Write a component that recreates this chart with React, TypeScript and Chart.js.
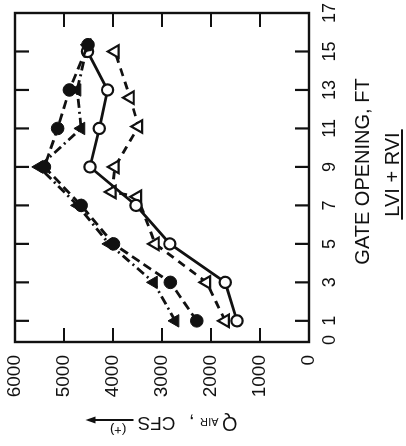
import React, { useEffect, useRef } from "react";
import { Chart, registerables } from "chart.js";

Chart.register(...registerables);

// ---- data (x = gate opening, ft ; y = Q_air, cfs) ----
const gateTickLabels = [0, 1, 3, 5, 7, 9, 11, 13, 15, 17];
const gateTickMarks = [1, 3, 5, 7, 9, 11, 13, 15];
const qTickLabels = [0, 1000, 2000, 3000, 4000, 5000, 6000];
const qTickMarks = [1000, 2000, 3000, 4000, 5000];

const gateFilledCircle = [1, 3, 5, 7, 9, 11, 13, 15.35];
const qFilledCircle = [2290, 2830, 3990, 4650, 5400, 5130, 4890, 4510];

const gateFilledTriangle = [1, 3, 5, 7, 9, 11, 13, 15.35];
const qFilledTriangle = [2730, 3170, 4080, 4720, 5510, 4650, 4730, 4520];

const gateOpenCircle = [1, 3, 5, 7, 9, 11, 13, 15];
const qOpenCircle = [1470, 1710, 2840, 3530, 4470, 4280, 4110, 4520];

const gateOpenTriangle = [1, 3, 5, 7.45, 7.7, 9, 11.1, 12.6, 15];
const qOpenTriangle = [1710, 2090, 3140, 3500, 4020, 3960, 3480, 3650, 3960];

const INK = "#111111";
const FONT = "'Liberation Sans', Arial, Helvetica, sans-serif";
const TICK = 14;

const pts = (gs: number[], qs: number[]) => gs.map((g, i) => ({ x: g, y: qs[i] }));

const framePlugin = {
  id: "frame",
  beforeDatasetsDraw(chart: any) {
    const { ctx, chartArea: a, scales } = chart;
    const x = scales.x;
    const y = scales.y;
    ctx.save();
    ctx.strokeStyle = INK;
    ctx.lineWidth = 2.4;
    ctx.setLineDash([]);
    ctx.strokeRect(a.left, a.top, a.right - a.left, a.bottom - a.top);
    ctx.lineWidth = 2.2;
    ctx.beginPath();
    for (const g of gateTickMarks) {
      const px = x.getPixelForValue(g);
      ctx.moveTo(px, a.bottom);
      ctx.lineTo(px, a.bottom - TICK);
      ctx.moveTo(px, a.top);
      ctx.lineTo(px, a.top + TICK);
    }
    for (const q of qTickMarks) {
      const py = y.getPixelForValue(q);
      ctx.moveTo(a.left, py);
      ctx.lineTo(a.left + TICK, py);
      ctx.moveTo(a.right, py);
      ctx.lineTo(a.right - TICK, py);
    }
    ctx.stroke();
    ctx.restore();
  },
  afterDraw(chart: any) {
    const { ctx, chartArea: a } = chart;
    const midX = (a.left + a.right) / 2;
    const midY = (a.top + a.bottom) / 2;
    ctx.save();
    ctx.fillStyle = INK;
    ctx.strokeStyle = INK;
    ctx.setLineDash([]);

    // gate axis title
    ctx.font = `20px ${FONT}`;
    ctx.textAlign = "center";
    ctx.textBaseline = "middle";
    ctx.fillText("GATE OPENING, FT", midX + 6, a.bottom + 54);

    // LVI + RVI underlined
    ctx.font = `20px ${FONT}`;
    const sub = "LVI + RVI";
    const w = ctx.measureText(sub).width;
    const cx = midX + 3;
    ctx.fillText(sub, cx, a.bottom + 84);
    ctx.lineWidth = 2;
    ctx.beginPath();
    ctx.moveTo(cx - w / 2 - 3, a.bottom + 93);
    ctx.lineTo(cx + w / 2 + 3, a.bottom + 93);
    ctx.stroke();

    // Q axis title (rotated, reading bottom to top)
    ctx.translate(a.left - 75, midY + 75.5);
    ctx.rotate(-Math.PI / 2);
    ctx.textAlign = "left";
    ctx.textBaseline = "alphabetic";
    ctx.font = `20px ${FONT}`;
    ctx.fillText("Q", 0, 0);
    ctx.font = `11px ${FONT}`;
    ctx.fillText("AIR", 19, -1);
    ctx.font = `20px ${FONT}`;
    ctx.fillText(",", 43, 0);
    ctx.font = `19px ${FONT}`;
    ctx.fillText("CFS", 62, 0);
    // arrow
    ctx.lineWidth = 2;
    ctx.beginPath();
    ctx.moveTo(104, -3);
    ctx.lineTo(144, -3);
    ctx.stroke();
    ctx.beginPath();
    ctx.moveTo(152, -3);
    ctx.lineTo(142, -6.5);
    ctx.lineTo(142, 0.5);
    ctx.closePath();
    ctx.fill();
    ctx.font = `13px ${FONT}`;
    ctx.textAlign = "center";
    ctx.fillText("(+)", 119.5, -9);
    ctx.restore();
  },
};

const zeroPad = (s: any) => {
  s.paddingLeft = 0;
  s.paddingRight = 0;
  s.paddingTop = 0;
  s.paddingBottom = 0;
};

export default function App() {
  const ref = useRef<HTMLCanvasElement>(null);

  useEffect(() => {
    if (!ref.current) return;
    const chart = new Chart(ref.current, {
      type: "line",
      data: {
        datasets: [
          {
            label: "filled circles",
            data: pts(gateFilledCircle, qFilledCircle),
            borderColor: INK,
            backgroundColor: INK,
            borderWidth: 2.8,
            borderDash: [9, 5],
            pointStyle: "circle",
            pointRadius: 6.3,
            pointBackgroundColor: INK,
            pointBorderColor: INK,
            pointBorderWidth: 1,
            tension: 0,
            fill: false,
          },
          {
            label: "filled triangles",
            data: pts(gateFilledTriangle, qFilledTriangle),
            borderColor: INK,
            backgroundColor: INK,
            borderWidth: 2.8,
            borderDash: [9, 4, 2, 4],
            pointStyle: "triangle",
            pointRadius: 7.2,
            pointBackgroundColor: INK,
            pointBorderColor: INK,
            pointBorderWidth: 1,
            tension: 0,
            fill: false,
          },
          {
            label: "open circles",
            data: pts(gateOpenCircle, qOpenCircle),
            borderColor: INK,
            backgroundColor: "#ffffff",
            borderWidth: 2.8,
            pointStyle: "circle",
            pointRadius: 5.6,
            pointBackgroundColor: "#ffffff",
            pointBorderColor: INK,
            pointBorderWidth: 2.2,
            tension: 0,
            fill: false,
          },
          {
            label: "open triangles",
            data: pts(gateOpenTriangle, qOpenTriangle),
            borderColor: INK,
            backgroundColor: "#ffffff",
            borderWidth: 2.8,
            borderDash: [8, 6],
            pointStyle: "triangle",
            pointRadius: 7.2,
            pointBackgroundColor: "#ffffff",
            pointBorderColor: INK,
            pointBorderWidth: 2.2,
            tension: 0,
            fill: false,
          },
        ],
      },
      options: {
        animation: false,
        responsive: false,
        devicePixelRatio: 1,
        layout: { padding: { left: 0, right: 13, top: 15, bottom: 0 } },
        plugins: { legend: { display: false }, tooltip: { enabled: false } },
        scales: {
          x: {
            type: "linear",
            position: "bottom",
            min: -0.1,
            max: 17,
            grid: { display: false, drawTicks: false },
            border: { display: false },
            ticks: {
              autoSkip: false,
              maxRotation: 0,
              minRotation: 0,
              padding: 10,
              color: INK,
              font: { family: FONT, size: 18 },
              callback: (v: any) => String(v),
            },
            afterBuildTicks: (s: any) => {
              s.ticks = gateTickLabels.map((v) => ({ value: v }));
            },
            afterFit: (s: any) => {
              s.height = 97;
              zeroPad(s);
            },
          },
          y: {
            type: "linear",
            position: "left",
            min: 0,
            max: 6000,
            grid: { display: false, drawTicks: false },
            border: { display: false },
            ticks: {
              autoSkip: false,
              padding: 13,
              color: INK,
              font: { family: FONT, size: 19 },
              callback: (v: any) => String(v),
            },
            afterBuildTicks: (s: any) => {
              s.ticks = qTickLabels.map((v) => ({ value: v }));
            },
            afterFit: (s: any) => {
              s.width = 104;
              zeroPad(s);
            },
          },
        },
      },
      plugins: [framePlugin],
    } as any);
    return () => chart.destroy();
  }, []);

  return (
    <div
      style={{
        position: "fixed",
        left: 0,
        top: 0,
        width: 446,
        height: 406,
        background: "#ffffff",
        transformOrigin: "0 0",
        transform: "translateY(446px) rotate(-90deg)",
      }}
    >
      <canvas ref={ref} width={446} height={406} style={{ display: "block", width: 446, height: 406 }} />
    </div>
  );
}
